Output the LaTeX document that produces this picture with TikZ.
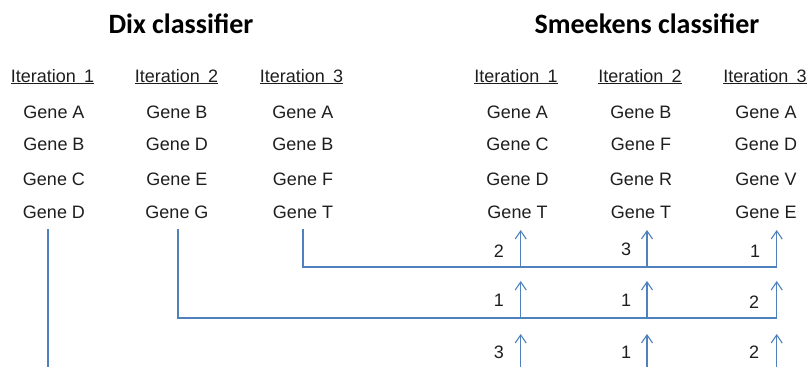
\documentclass[tikz,border=0pt]{standalone}
\usepackage{fontspec}
\setmainfont{Liberation Sans}
\newfontfamily\titlefont{Carlito}
\usetikzlibrary{arrows.meta}
\definecolor{lineblue}{RGB}{79,129,189}
\definecolor{txt}{RGB}{30,30,30}
\tikzset{
  ttl/.style={font=\titlefont\bfseries\fontsize{28}{30}\selectfont, anchor=base, inner sep=0pt, text=black},
  iter/.style={font=\fontsize{18}{20}\selectfont, anchor=base, inner sep=0pt, text=txt},
  gene/.style={font=\fontsize{18}{20}\selectfont, anchor=base, inner sep=0pt, text=txt},
  num/.style={font=\fontsize{18}{20}\selectfont, anchor=base, inner sep=0pt, text=txt},
  link/.style={draw=lineblue, line width=1.1pt},
  uparrow/.style={link, -{Straight Barb[length=8pt,width=11pt]}}
}
\newcommand{\itr}[1]{\underline{Iteration\hspace{0.45em}#1}}
\begin{document}
\begin{tikzpicture}[x=1pt,y=-1pt]
\useasboundingbox (0,0) rectangle (809,367);
% titles
\node[ttl] (tdix) at (181,33.5) {Dix classifier};
\node[ttl] (tsme) at (647,33.5) {Smeekens classifier};
% iteration headers
\node[iter] (hd1) at (52.5,82) {\itr{1}};
\node[iter] (hd2) at (176.5,82) {\itr{2}};
\node[iter] (hd3) at (301.5,82) {\itr{3}};
\node[iter] (hs1) at (516,82) {\itr{1}};
\node[iter] (hs2) at (640,82) {\itr{2}};
\node[iter] (hs3) at (765,82) {\itr{3}};
% Dix genes
\node[gene] (d11) at (54,118.3) {Gene A};
\node[gene] (d12) at (54,150.3) {Gene B};
\node[gene] (d13) at (54,185) {Gene C};
\node[gene] (d14) at (54,218.3) {Gene D};
\node[gene] (d21) at (177,118.3) {Gene B};
\node[gene] (d22) at (177,150.3) {Gene D};
\node[gene] (d23) at (177,185) {Gene E};
\node[gene] (d24) at (177,218.3) {Gene G};
\node[gene] (d31) at (303,118.3) {Gene A};
\node[gene] (d32) at (303,150.3) {Gene B};
\node[gene] (d33) at (303,185) {Gene F};
\node[gene] (d34) at (303,218.3) {Gene T};
% Smeekens genes
\node[gene] (s11) at (517.5,118.3) {Gene A};
\node[gene] (s12) at (517.5,150.3) {Gene C};
\node[gene] (s13) at (517.5,185) {Gene D};
\node[gene] (s14) at (517.5,218.3) {Gene T};
\node[gene] (s21) at (641,118.3) {Gene B};
\node[gene] (s22) at (641,150.3) {Gene F};
\node[gene] (s23) at (641,185) {Gene R};
\node[gene] (s24) at (641,218.3) {Gene T};
\node[gene] (s31) at (766,118.3) {Gene A};
\node[gene] (s32) at (766,150.3) {Gene D};
\node[gene] (s33) at (766,185) {Gene V};
\node[gene] (s34) at (766,218.3) {Gene E};
% connector coordinates
\coordinate (dA) at (48,229);
\coordinate (dAend) at (48,367);
\coordinate (dB) at (178,229);
\coordinate (dBc) at (178,318);
\coordinate (dBend) at (776.7,318);
\coordinate (dC) at (303,229);
\coordinate (dCc) at (303,267);
\coordinate (dCend) at (776.7,267);
% Dix lines
\draw[link] (dA) -- (dAend);
\draw[link] (dB) -- (dBc) -- (dBend);
\draw[link] (dC) -- (dCc) -- (dCend);
% arrows row 1
\coordinate (a11) at (520.7,267); \coordinate (t11) at (520.7,230);
\coordinate (a12) at (647,267);   \coordinate (t12) at (647,230);
\coordinate (a13) at (776.7,267); \coordinate (t13) at (776.7,230);
\draw[uparrow] (a11) -- (t11);
\draw[uparrow] (a12) -- (t12);
\draw[uparrow] (a13) -- (t13);
% arrows row 2
\coordinate (a21) at (520.7,318); \coordinate (t21) at (520.7,281);
\coordinate (a22) at (647,318);   \coordinate (t22) at (647,281);
\coordinate (a23) at (776.7,318); \coordinate (t23) at (776.7,281);
\draw[uparrow] (a21) -- (t21);
\draw[uparrow] (a22) -- (t22);
\draw[uparrow] (a23) -- (t23);
% arrows row 3
\coordinate (a31) at (520.7,367); \coordinate (t31) at (520.7,334);
\coordinate (a32) at (647,367);   \coordinate (t32) at (647,334);
\coordinate (a33) at (776.7,367); \coordinate (t33) at (776.7,334);
\draw[uparrow] (a31) -- (t31);
\draw[uparrow] (a32) -- (t32);
\draw[uparrow] (a33) -- (t33);
% numbers
\node[num] (n11) at (499,257) {2};
\node[num] (n12) at (626,255) {3};
\node[num] (n13) at (755,257) {1};
\node[num] (n21) at (499,306) {1};
\node[num] (n22) at (626,306) {1};
\node[num] (n23) at (754,308) {2};
\node[num] (n31) at (499,358) {3};
\node[num] (n32) at (626,358) {1};
\node[num] (n33) at (754,358) {2};
\end{tikzpicture}
\end{document}
